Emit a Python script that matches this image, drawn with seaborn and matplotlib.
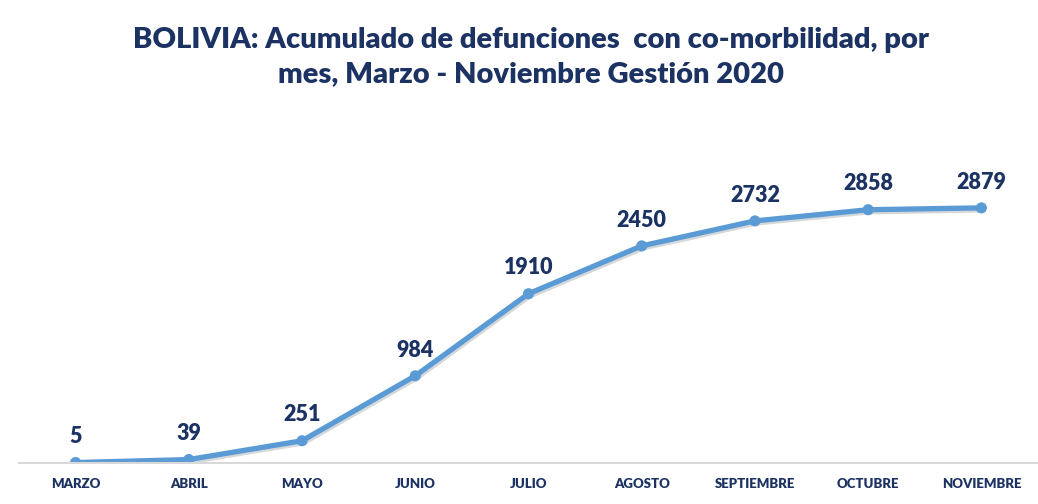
import matplotlib
matplotlib.use("Agg")
import matplotlib.pyplot as plt
import matplotlib.patheffects as pe
import seaborn as sns
import pandas as pd

months = ["MARZO", "ABRIL", "MAYO", "JUNIO", "JULIO", "AGOSTO",
          "SEPTIEMBRE", "OCTUBRE", "NOVIEMBRE"]
deaths = [5, 39, 251, 984, 1910, 2450, 2732, 2858, 2879]
title = "BOLIVIA: Acumulado de defunciones  con co-morbilidad, por\nmes, Marzo - Noviembre Gestión 2020"

sns.set_theme(style="white")
plt.rcParams["font.family"] = ["Lato", "DejaVu Sans"]

navy = "#1B3263"
blue = "#5B9BD5"

df = pd.DataFrame({"mes": months, "defunciones": deaths, "x": range(len(months))})

fig = plt.figure(figsize=(10.38, 5.04), dpi=100)
ax = fig.add_axes([19 / 1038, 41 / 504, 1 - 19 / 1038, 0.633])

sns.lineplot(data=df, x="x", y="defunciones", ax=ax, color=blue, linewidth=3.8,
             marker="o", markersize=8, markeredgewidth=0, markerfacecolor=blue,
             path_effects=[pe.SimpleLineShadow(offset=(1.0, -1.5), shadow_color="#5a6470", alpha=0.25),
                           pe.Normal()])

for xi, v in zip(df["x"], df["defunciones"]):
    ax.annotate(str(v), (xi, v), xytext=(0, 11), textcoords="offset points",
                ha="center", va="bottom", fontsize=15.5, fontweight="heavy", color=navy)

ax.set_xlim(-0.5, len(months) - 0.5)
ax.set_ylim(0, 3600)
ax.set_xticks(list(df["x"]))
ax.set_xticklabels(months, fontsize=9.5, fontweight="heavy", color=navy)
ax.tick_params(axis="x", length=0, pad=11)
ax.set_yticks([])
ax.set_xlabel("")
ax.set_ylabel("")
for s in ["top", "right", "left"]:
    ax.spines[s].set_visible(False)
ax.spines["bottom"].set_color("#D9D9D9")
ax.spines["bottom"].set_linewidth(1.5)

fig.text(531 / 1038, 0.887, title, ha="center", va="center", fontsize=21,
         fontweight="heavy", color=navy, linespacing=1.35)

fig.savefig("out.png", dpi=100, facecolor="white")
